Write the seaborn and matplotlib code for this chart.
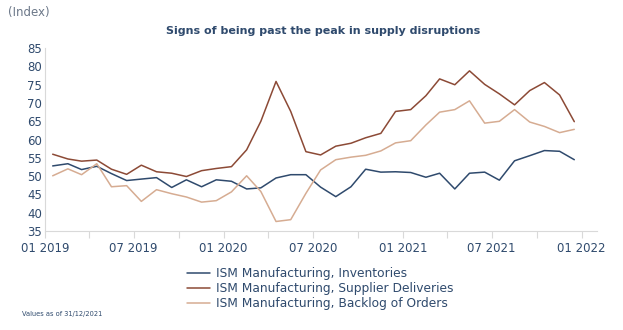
import matplotlib
matplotlib.use("Agg")
import matplotlib.pyplot as plt
import matplotlib.dates as mdates
import numpy as np
import pandas as pd
import seaborn as sns

# Monthly ISM Manufacturing sub-indices, Jan 2019 - Dec 2021
months = pd.date_range("2019-01-01", "2021-12-01", freq="MS") + pd.Timedelta(days=16)

inventories = [52.8, 53.4, 51.8, 52.7, 50.7, 48.8, 49.2, 49.6, 46.9, 49.0, 47.1, 49.0,
               48.6, 46.5, 46.8, 49.5, 50.4, 50.4, 47.0, 44.4, 47.1, 51.9, 51.1, 51.2,
               51.0, 49.7, 50.8, 46.5, 50.8, 51.1, 48.9, 54.2, 55.6, 57.0, 56.8, 54.5]

supplier_deliveries = [56.0, 54.7, 54.1, 54.4, 51.9, 50.5, 53.0, 51.2, 50.8, 49.9, 51.5, 52.1,
                       52.6, 57.2, 65.0, 75.9, 67.7, 56.7, 55.8, 58.2, 59.0, 60.5, 61.7, 67.7,
                       68.2, 72.0, 76.6, 75.0, 78.8, 75.1, 72.5, 69.5, 73.4, 75.6, 72.2, 64.9]

backlog_orders = [50.1, 52.0, 50.4, 53.4, 47.1, 47.4, 43.1, 46.3, 45.2, 44.3, 42.9, 43.3,
                  45.7, 50.1, 45.8, 37.6, 38.1, 45.3, 51.7, 54.5, 55.2, 55.7, 56.9, 59.1,
                  59.7, 64.0, 67.5, 68.2, 70.6, 64.5, 65.0, 68.2, 64.8, 63.6, 61.9, 62.8]

series_names = ["ISM Manufacturing, Inventories",
                "ISM Manufacturing, Supplier Deliveries",
                "ISM Manufacturing, Backlog of Orders"]
series_colors = ["#2f4a6d", "#8c4a36", "#d6ac92"]

df = pd.DataFrame({
    "date": np.tile(months, 3),
    "value": inventories + supplier_deliveries + backlog_orders,
    "series": np.repeat(series_names, len(months)),
})

sns.set_theme(style="white")
plt.rcParams["font.family"] = ["DejaVu Sans"]

text_color = "#2f4a6d"
fig = plt.figure(figsize=(6.23, 3.30), dpi=100)
ax = fig.add_axes([0.072, 0.30, 0.886, 0.554])

sns.lineplot(data=df, x="date", y="value", hue="series", hue_order=series_names,
             palette=series_colors, linewidth=1.1, ax=ax, legend=False)

ax.set_ylim(35, 85)
ax.set_yticks(range(35, 90, 5))
ax.set_xlim(pd.Timestamp("2019-01-01"), pd.Timestamp("2022-02-01"))
ax.xaxis.set_major_locator(mdates.MonthLocator(bymonth=[1, 7]))
ax.xaxis.set_major_formatter(mdates.DateFormatter("%m %Y"))
ax.xaxis.set_minor_locator(mdates.MonthLocator(bymonth=[4, 10]))
ax.set_xlabel("")
ax.set_ylabel("")

for side in ["top", "right"]:
    ax.spines[side].set_visible(False)
for side in ["left", "bottom"]:
    ax.spines[side].set_color("#d9d9d9")
    ax.spines[side].set_linewidth(0.8)

ax.tick_params(axis="x", which="both", direction="out", length=5, width=0.8,
               color="#d9d9d9", bottom=True, labelsize=8.5, labelcolor=text_color, pad=3)
ax.tick_params(axis="y", length=0, labelsize=8.5, labelcolor=text_color, pad=2)

fig.text(0.013, 0.963, "(Index)", fontsize=8.5, color="#6b7788", va="center", ha="left")
fig.text(0.518, 0.905, "Signs of being past the peak in supply disruptions",
         fontsize=8, fontweight="bold", color=text_color, ha="center", va="center")
fig.text(0.035, 0.048, "Values as of 31/12/2021", fontsize=4.8, color=text_color,
         ha="left", va="center")

handles = [plt.Line2D([], [], color=c, linewidth=1.1) for c in series_colors]
fig.legend(handles, series_names, loc="upper left", bbox_to_anchor=(0.300, 0.191),
           frameon=False, fontsize=8.8, labelcolor=text_color, handlelength=1.85,
           handletextpad=0.5, labelspacing=0.18, borderpad=0, borderaxespad=0)

fig.savefig("out.png", dpi=100)
